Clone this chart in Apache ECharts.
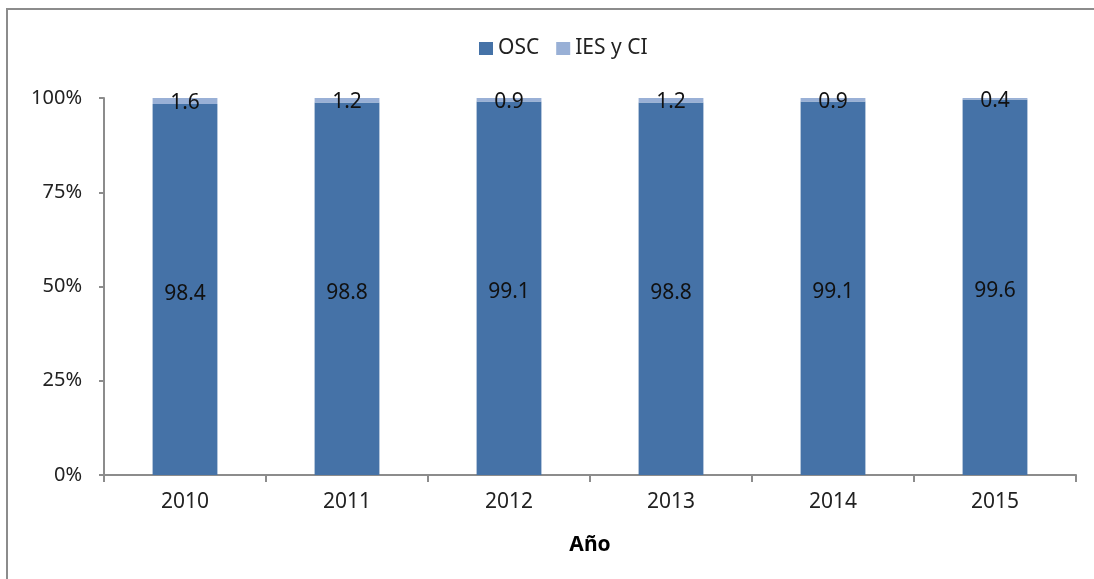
<!DOCTYPE html>
<html>
<head>
<meta charset="utf-8">
<script src="https://cdn.jsdelivr.net/npm/echarts@6/dist/echarts.min.js"></script>
<style>
  html, body { margin: 0; padding: 0; background: #fff; }
  #chart { width: 1094px; height: 579px; }
</style>
</head>
<body>
<div id="chart"></div>
<script>
const years = ['2010', '2011', '2012', '2013', '2014', '2015']
const osc = [98.4, 98.8, 99.1, 98.8, 99.1, 99.6]
const iesCi = [1.6, 1.2, 0.9, 1.2, 0.9, 0.4]
const yTicks = [0, 25, 50, 75, 100]

const font = 'Noto Sans'
const axisGray = '#8c8c8c'
const textColor = '#222'

const chart = echarts.init(document.getElementById('chart'))

chart.setOption({
  backgroundColor: '#fff',
  animation: false,
  textStyle: { fontFamily: font },
  graphic: [
    {
      type: 'rect',
      shape: { x: 7, y: 9, width: 1200, height: 700 },
      style: { fill: 'none', stroke: axisGray, lineWidth: 2 },
      silent: true,
    },
  ],
  legend: {
    data: ['OSC', 'IES y CI'],
    top: 33,
    left: 474,
    itemWidth: 14,
    itemHeight: 13,
    itemGap: 17,
    icon: 'rect',
    textStyle: { fontSize: 21, color: textColor, fontFamily: font },
  },
  grid: {
    left: 104,
    right: 18,
    top: 98,
    bottom: 104,
  },
  xAxis: {
    type: 'category',
    data: years,
    name: 'Año',
    nameLocation: 'middle',
    nameGap: 60,
    nameTextStyle: { fontSize: 21, fontWeight: 'bold', color: '#000', fontFamily: font },
    axisLine: { lineStyle: { color: axisGray, width: 2 } },
    axisTick: { show: true, length: 7, lineStyle: { color: axisGray, width: 2 } },
    axisLabel: { fontSize: 21, color: textColor, margin: 17, fontFamily: font },
  },
  yAxis: {
    type: 'value',
    min: yTicks[0],
    max: yTicks[yTicks.length - 1],
    interval: 25,
    axisLine: { show: true, lineStyle: { color: axisGray, width: 2 } },
    axisTick: { show: true, length: 5, lineStyle: { color: axisGray, width: 2 } },
    splitLine: { show: false },
    axisLabel: { fontSize: 20, color: textColor, margin: 22, fontFamily: font, formatter: '{value}%' },
  },
  series: [
    {
      name: 'OSC',
      type: 'bar',
      stack: 'total',
      data: osc,
      barWidth: '40%',
      itemStyle: { color: '#4572A7' },
      label: {
        show: true,
        position: 'inside',
        fontSize: 21,
        color: '#111',
        fontFamily: font,
        offset: [0, 4],
      },
    },
    {
      name: 'IES y CI',
      type: 'bar',
      stack: 'total',
      data: iesCi,
      barWidth: '40%',
      itemStyle: { color: '#99B0D6' },
      label: {
        show: true,
        position: 'inside',
        fontSize: 21,
        color: '#111',
        fontFamily: font,
        offset: [0, 2],
      },
    },
  ],
})
</script>
</body>
</html>
